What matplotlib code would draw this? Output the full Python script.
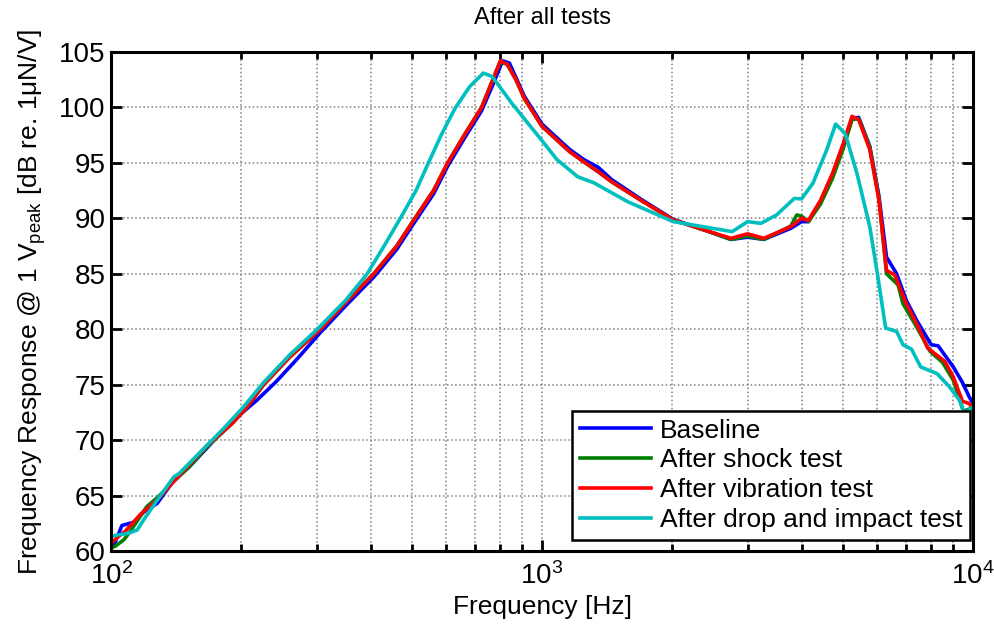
import matplotlib
matplotlib.use('Agg')
import matplotlib.pyplot as plt

# Data
base_f = [100, 102, 106, 113, 119, 128, 140, 152, 167, 182, 202, 218, 242, 270, 306, 350,
          407, 460, 507, 560, 604, 660, 724, 770, 810, 840, 870, 910, 1000, 1080, 1160, 1250,
          1350, 1450, 1700, 2018, 2400, 2743, 3000, 3273, 3776, 4000, 4150, 4430, 4720, 5000,
          5240, 5430, 5760, 6050, 6300, 6650, 7000, 7400, 8000, 8300, 9000, 9450, 9800, 10000]
base_db = [60.5, 60.7, 62.3, 62.6, 63.5, 64.3, 66.4, 67.6, 69.3, 70.9, 72.5, 73.6, 75.3, 77.3, 79.7, 82.1,
           84.7, 87.2, 89.7, 92.2, 94.7, 97.2, 99.7, 102.1, 104.2, 104.0, 102.7, 101.0, 98.5, 97.3, 96.2, 95.3,
           94.6, 93.5, 91.7, 89.9, 88.9, 88.1, 88.3, 88.1, 89.1, 89.7, 89.7, 91.5, 93.9, 96.6,
           99.0, 99.1, 96.5, 92.0, 86.5, 85.0, 82.6, 80.8, 78.6, 78.5, 76.6, 75.2, 73.9, 73.3]

shock_f = [100, 102, 107, 111, 121, 128, 140, 152, 167, 191, 205, 226, 260, 306, 350, 407,
           460, 507, 560, 604, 660, 724, 765, 800, 830, 870, 910, 1000, 1080, 1160, 1250, 1350,
           1450, 1700, 2018, 2400, 2743, 3000, 3273, 3776, 3900, 4000, 4150, 4430, 4720, 5000,
           5240, 5430, 5760, 6050, 6300, 6700, 6880, 7400, 7950, 8500, 9000, 9500, 9800, 10000]
shock_db = [60.3, 60.4, 61.0, 61.8, 64.0, 64.8, 66.3, 67.6, 69.4, 71.5, 72.8, 75.0, 77.5, 80.0, 82.4, 85.0,
            87.5, 90.0, 92.5, 95.0, 97.5, 100.0, 102.3, 104.1, 103.9, 102.5, 100.8, 98.3, 97.1, 96.0, 95.1, 94.2,
            93.3, 91.6, 89.85, 88.9, 88.1, 88.4, 88.1, 89.3, 90.3, 90.2, 89.7, 91.3, 93.6, 96.3,
            98.9, 99.0, 96.4, 91.8, 85.0, 84.0, 82.3, 80.2, 78.0, 77.0, 75.4, 72.6, 72.8, 73.0]

vib_f = [100, 104, 108, 117, 128, 140, 152, 167, 191, 205, 226, 260, 306, 350, 407, 460,
         507, 560, 604, 660, 724, 765, 800, 830, 870, 910, 1000, 1080, 1160, 1250, 1350, 1450,
         1700, 2018, 2400, 2743, 3000, 3273, 3776, 4000, 4150, 4430, 4720, 5000, 5240, 5430,
         5760, 6050, 6300, 6580, 7000, 7400, 7850, 8600, 9000, 9450, 9800, 10000]
vib_db = [60.7, 61.3, 61.8, 63.3, 64.6, 66.3, 67.8, 69.5, 71.5, 72.8, 75.0, 77.5, 80.0, 82.4, 85.0, 87.5,
          90.0, 92.5, 95.0, 97.5, 100.0, 102.3, 104.2, 103.9, 102.5, 100.8, 98.3, 97.1, 96.0, 95.1, 94.2, 93.3,
          91.6, 89.85, 88.9, 88.2, 88.6, 88.2, 89.25, 90.0, 89.8, 91.65, 94.05, 96.75, 99.2, 98.9,
          96.2, 91.65, 85.3, 84.9, 82.3, 80.5, 78.3, 77.1, 75.7, 73.5, 73.3, 72.8]

drop_f = [100, 102, 110, 115, 119, 128, 140, 144, 160, 182, 202, 226, 260, 301, 350, 393,
          430, 469, 510, 545, 585, 628, 680, 731, 765, 800, 850, 900, 1000, 1083, 1210, 1320, 1580,
          2018, 2400, 2760, 3000, 3220, 3500, 3850, 4000, 4250, 4580, 4800, 5050, 5380, 5760,
          6000, 6270, 6650, 6880, 7200, 7560, 8250, 8820, 9300, 9560, 10000]
drop_db = [61.3, 61.4, 61.6, 61.9, 62.8, 64.6, 66.7, 67.0, 68.8, 71.0, 72.9, 75.2, 77.7, 80.0, 82.6, 85.0,
           87.5, 90.0, 92.5, 95.0, 97.6, 99.9, 101.9, 103.1, 102.8, 101.8, 100.4, 99.2, 97.0, 95.3, 93.75, 93.2, 91.5,
           89.7, 89.2, 88.8, 89.7, 89.55, 90.3, 91.8, 91.75, 93.15, 96.2, 98.5, 97.65, 94.05, 89.25,
           85.0, 80.1, 79.8, 78.6, 78.2, 76.6, 76.0, 74.8, 73.6, 72.4, 73.0]

labels = ['Baseline', 'After shock test', 'After vibration test', 'After drop and impact test']
colors = ['#0000ff', '#008000', '#ff0000', '#00bfbf']

plt.rcParams['font.family'] = ['Liberation Sans', 'DejaVu Sans']
plt.rcParams['mathtext.fontset'] = 'custom'
plt.rcParams['mathtext.rm'] = 'Liberation Sans'
plt.rcParams['mathtext.default'] = 'regular'

fig = plt.figure(figsize=(9.95, 6.35), dpi=100)
ax = fig.add_axes([0.1116, 0.1323, 0.8663, 0.7858])

series = [(base_f, base_db), (shock_f, shock_db), (vib_f, vib_db), (drop_f, drop_db)]
for (f, db), lab, c in zip(series, labels, colors):
    ax.plot(f, db, color=c, linewidth=2.6, label=lab)

ax.set_xscale('log')
ax.set_xlim(100, 10000)
ax.set_ylim(60, 105)
ax.set_yticks(range(60, 106, 5))

ax.grid(True, which='major', linestyle=':', color='0.5', linewidth=1.1)
ax.grid(True, which='minor', axis='x', linestyle=':', color='0.5', linewidth=1.1)

for s in ax.spines.values():
    s.set_linewidth(2.2)
ax.tick_params(which='both', direction='in', top=True, right=True, labelsize=20, width=2)
ax.tick_params(which='major', length=8)
ax.tick_params(which='minor', length=5)
ax.tick_params(axis='y', which='major', pad=4)
ax.tick_params(axis='x', which='major', pad=8)

ax.set_xlabel('Frequency [Hz]', fontsize=19, labelpad=4)
ax.set_ylabel('Frequency Response @ 1 V$_{peak}$ [dB re. 1\u03bcN/V]', fontsize=19, labelpad=8)
ax.set_title('After all tests', fontsize=17, pad=20)

leg = ax.legend(loc='lower right', bbox_to_anchor=(0.997, 0.022), fontsize=19, fancybox=False,
                framealpha=1, edgecolor='black', handlelength=2.7, borderpad=0.3, labelspacing=0.22,
                handletextpad=0.35, borderaxespad=0.0)
leg.get_frame().set_linewidth(1.8)

fig.savefig('out.png', dpi=100)
